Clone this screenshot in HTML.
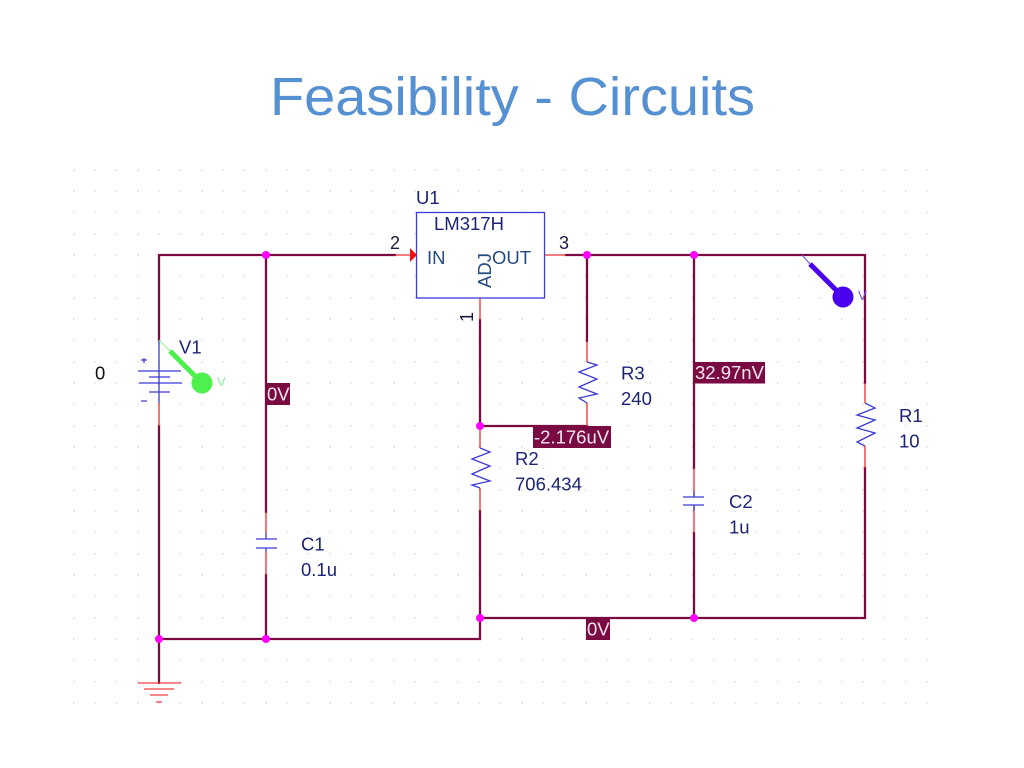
<!DOCTYPE html>
<html lang="en">
<head>
<meta charset="utf-8">
<title>Feasibility - Circuits</title>
<style>
html,body{margin:0;padding:0;background:#fff;width:1024px;height:768px;overflow:hidden}
svg{display:block}
text{font-family:"Liberation Sans",sans-serif}
.l{font-size:18.5px;fill:#1c2478}
.p{font-size:18px;fill:#1a1a40}
.m{font-size:18.5px;fill:#f4e6ee}
.w{stroke:#7a0a42;stroke-width:2.3;fill:none;stroke-linecap:square}
.r{stroke:#ee3030;stroke-width:1.3;fill:none}
.b{stroke:#3a3ad6;stroke-width:1.3;fill:none}
</style>
</head>
<body>
<svg width="1024" height="768" viewBox="0 0 1024 768" xmlns="http://www.w3.org/2000/svg">
<defs>
<pattern id="g" x="73" y="169" width="21.33" height="21.33" patternUnits="userSpaceOnUse">
<rect x="0" y="0" width="1.6" height="1.6" fill="#dcdcdc"/>
</pattern>
</defs>
<rect width="1024" height="768" fill="#fff"/>
<rect x="73" y="169" width="862" height="537" fill="url(#g)"/>

<text x="270" y="115" font-size="54" fill="#5590d2" textLength="485" lengthAdjust="spacingAndGlyphs">Feasibility - Circuits</text>

<!-- wires -->
<path class="w" d="M159 340V255H395M566 255H865V383M865 468V618H480V511M159 426V683M159 639H480V618M266 255V512M266 575V639M480 320V426M480 426H587M587 255V341M694 255V468M694 533V618"/>

<!-- thin pin stubs -->
<path class="r" d="M395 255H410M545 255H566M480 298V320M480 426V448M480 488V511M587 341V362M587 403V426M694 468V496M694 505V533M865 383V403M865 446V468M266 512V533M266 552V575M159 403V426"/>
<path class="b" d="M159 340V403M266 533V539M266 548V552"/>

<!-- battery -->
<path class="b" d="M138 371H181M149 377H170M139 383H182M149 392H170"/>
<path class="b" d="M141 360H147M144 363V358M141 401H147" />

<!-- capacitors -->
<path class="b" d="M256 539H277M256 548H277M683 497H704M683 505H704M694 497V491M694 505V511"/>

<!-- resistors -->
<path class="b" d="M480 448L490 452L472 459L490 466L472 474L490 481L472 485L480 488"/>
<path class="b" d="M587 362L597 365L579 372L597 379L579 387L597 394L579 398L587 403"/>
<path class="b" d="M865 403L875 408L857 415L875 420L857 428L875 433L857 442L865 446"/>

<!-- ground -->
<path d="M138 683H181M144 689H174M150 695H168M156 702H162" stroke="#ee4040" stroke-width="1.3" fill="none"/>

<!-- U1 -->
<rect x="416.5" y="212.5" width="128" height="85.5" fill="#fff" stroke="#3a3ad6" stroke-width="1.3"/>
<polygon points="410,248 417,255 410,262" fill="#ee1010"/>
<text x="416" y="204" class="l">U1</text>
<text x="434" y="230" class="l">LM317H</text>
<text x="427" y="264" font-size="18.5" fill="#244a80">IN</text>
<text x="492" y="264" font-size="18.5" fill="#244a80">OUT</text>
<text transform="translate(491 288) rotate(-90)" font-size="18.5" fill="#244a80">ADJ</text>
<text x="390" y="249" class="p">2</text>
<text x="559" y="249" class="p">3</text>
<text transform="translate(473 322) rotate(-90)" class="p">1</text>

<!-- junctions -->
<g fill="#ff00ff">
<circle cx="266" cy="255" r="4"/><circle cx="587" cy="255" r="4"/><circle cx="694" cy="255" r="4"/>
<circle cx="480" cy="426" r="4"/><circle cx="480" cy="618" r="4"/><circle cx="694" cy="618" r="4"/>
<circle cx="159" cy="639" r="4"/><circle cx="266" cy="639" r="4"/>
</g>

<!-- measurement labels -->
<rect x="266" y="383" width="24" height="22" fill="#7a0a42"/>
<text x="267" y="400.500" class="m">0V</text>
<rect x="586" y="618" width="24" height="22" fill="#7a0a42"/>
<text x="587" y="635.500" class="m">0V</text>
<rect x="533" y="426" width="78" height="22" fill="#7a0a42"/>
<text x="534" y="443.500" class="m">-2.176uV</text>
<rect x="694" y="362" width="71" height="21.500" fill="#7a0a42"/>
<text x="695" y="379" class="m">32.97nV</text>

<!-- probes -->
<path d="M159 340L170 351" stroke="#8ef08e" stroke-width="1" fill="none"/>
<path d="M170 351L202 383" stroke="#4df04d" stroke-width="5" fill="none"/>
<circle cx="202" cy="383" r="10.500" fill="#4df04d"/>
<text x="217" y="386" font-size="13" fill="#8ef0a0">V</text>

<path d="M802 255L810 264" stroke="#6a50e0" stroke-width="1" fill="none"/>
<path d="M810 264L843 297" stroke="#4a00ee" stroke-width="5" fill="none"/>
<circle cx="843" cy="297" r="10.500" fill="#4a00ee"/>
<text x="858" y="300" font-size="13" fill="#6a50e0">V</text>

<!-- component labels -->
<text x="179" y="353.500" class="l">V1</text>
<text x="95" y="379.500" font-size="18.500" fill="#111">0</text>
<text x="301" y="550.500" class="l">C1</text>
<text x="301" y="576" class="l">0.1u</text>
<text x="515" y="465" class="l">R2</text>
<text x="515" y="490.500" class="l">706.434</text>
<text x="621" y="379.500" class="l">R3</text>
<text x="621" y="405" class="l">240</text>
<text x="729" y="508" class="l">C2</text>
<text x="729" y="533.500" class="l">1u</text>
<text x="899" y="422" class="l">R1</text>
<text x="899" y="447.500" class="l">10</text>
</svg>
</body>
</html>
